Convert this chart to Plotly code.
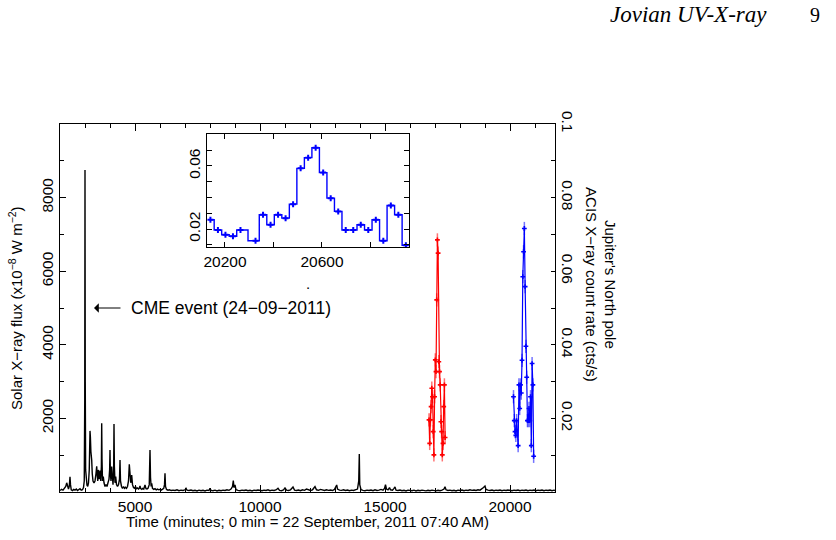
import plotly.graph_objects as go

# ---------------- data ----------------
# GOES solar X-ray flux (x1e-8 W m^-2) vs time (minutes)
goes_t = [2000, 2060, 2120, 2180, 2230, 2268, 2300, 2340, 2370, 2400, 2420, 2450, 2500, 2550, 2600, 2650, 2700, 2750, 2800, 2850,
          2900, 2940, 2970, 2990, 3000, 3010, 3025, 3050, 3080, 3110, 3140, 3170, 3190, 3200, 3215, 3235, 3268, 3290, 3320, 3360,
          3400, 3440, 3468, 3490, 3510, 3532, 3560, 3600, 3630, 3655, 3668, 3680, 3700, 3732, 3760, 3800, 3840, 3880, 3920, 3960,
          3985, 4000, 4015, 4040, 4068, 4090, 4120, 4145, 4160, 4175, 4200, 4228, 4260, 4300, 4340, 4380, 4400, 4420, 4460, 4500,
          4540, 4580, 4620, 4660, 4700, 4740, 4772, 4800, 4830, 4868, 4900, 4940, 4980, 5020, 5060, 5100, 5140, 5170, 5200, 5230,
          5270, 5310, 5350, 5400, 5440, 5480, 5520, 5570, 5600, 5620, 5645, 5668, 5700, 5750, 5800, 5850, 5900, 5950, 6000, 6050,
          6100, 6150, 6180, 6200, 6220, 6260, 6320, 6380, 6450, 6520, 6600, 6680, 6760, 6840, 6920, 7000, 7040, 7080, 7160, 7240,
          7320, 7400, 7480, 7560, 7640, 7720, 7800, 7880, 7960, 8000, 8040, 8120, 8200, 8280, 8360, 8440, 8520, 8600, 8680, 8760,
          8840, 8900, 8932, 8960, 9000, 9040, 9120, 9200, 9280, 9360, 9440, 9520, 9600, 9680, 9760, 9840, 9920, 10000, 10080, 10160,
          10240, 10320, 10400, 10480, 10560, 10640, 10720, 10780, 10860, 10940, 11000, 11060, 11140, 11220, 11320, 11380, 11460, 11540, 11620, 11700,
          11780, 11860, 11940, 12020, 12100, 12200, 12260, 12340, 12420, 12500, 12580, 12660, 12740, 12820, 12900, 12980, 13030, 13068, 13100, 13180,
          13260, 13340, 13420, 13500, 13580, 13660, 13740, 13820, 13900, 13950, 13972, 13990, 14040, 14120, 14200, 14280, 14360, 14440, 14520, 14600,
          14680, 14760, 14840, 14920, 14980, 15020, 15060, 15120, 15180, 15220, 15300, 15360, 15400, 15440, 15520, 15600, 15680, 15760, 15840, 15920,
          16000, 16080, 16160, 16240, 16320, 16400, 16480, 16560, 16640, 16720, 16800, 16880, 16960, 17040, 17120, 17200, 17280, 17360, 17400, 17440,
          17520, 17600, 17680, 17760, 17840, 17920, 18000, 18080, 18160, 18240, 18320, 18400, 18480, 18560, 18640, 18720, 18800, 18880, 18940, 19000,
          19040, 19120, 19200, 19280, 19360, 19440, 19520, 19600, 19680, 19760, 19840, 19920, 20000, 20080, 20160, 20240, 20320, 20400, 20480, 20560,
          20640, 20720, 20800, 20880, 20960, 21040, 21120, 21200, 21280, 21360, 21440, 21520, 21600, 21680, 21760, 21800]
goes_f = [40, 70, 50, 90, 150, 250, 120, 80, 150, 410, 200, 60, 40, 70, 50, 80, 40, 60, 90, 50,
          60, 120, 300, 2500, 8750, 3000, 600, 250, 180, 150, 250, 600, 1400, 1660, 1500, 1100, 870, 500, 300, 250,
          300, 500, 700, 450, 300, 600, 350, 580, 300, 700, 1870, 900, 300, 416, 250, 150, 200, 150, 250, 350,
          600, 1140, 500, 300, 690, 300, 200, 500, 1850, 700, 250, 416, 200, 150, 200, 350, 870, 300, 150, 100,
          150, 100, 130, 100, 150, 300, 750, 400, 250, 460, 200, 120, 100, 150, 90, 110, 80, 100, 163, 90,
          70, 100, 80, 190, 90, 80, 100, 200, 1140, 400, 150, 236, 100, 70, 90, 60, 80, 60, 70, 50,
          80, 100, 200, 507, 150, 70, 50, 60, 40, 50, 40, 60, 35, 50, 40, 60, 100, 50, 40, 55,
          35, 45, 30, 50, 35, 45, 30, 50, 40, 100, 45, 35, 50, 30, 45, 35, 50, 40, 60, 45,
          80, 150, 308, 120, 190, 60, 45, 35, 50, 40, 55, 35, 45, 30, 50, 40, 55, 45, 35, 50,
          40, 60, 35, 50, 40, 55, 100, 45, 35, 55, 110, 50, 40, 60, 136, 50, 40, 55, 35, 60,
          45, 80, 50, 40, 60, 145, 60, 45, 70, 50, 40, 60, 45, 55, 40, 70, 120, 190, 80, 50,
          45, 60, 40, 55, 35, 50, 40, 60, 80, 300, 1032, 200, 60, 45, 35, 50, 40, 55, 35, 60,
          40, 50, 70, 50, 100, 200, 80, 60, 120, 60, 50, 100, 140, 50, 40, 55, 35, 45, 30, 50,
          40, 35, 50, 30, 45, 35, 50, 40, 30, 45, 35, 50, 40, 30, 45, 35, 50, 80, 140, 60,
          40, 50, 35, 45, 30, 50, 40, 55, 35, 50, 40, 60, 45, 55, 40, 60, 50, 80, 120, 160,
          70, 50, 40, 55, 35, 50, 40, 55, 35, 50, 40, 55, 45, 35, 50, 40, 55, 35, 50, 40,
          55, 35, 50, 40, 55, 35, 50, 40, 55, 35, 50, 40, 55, 35, 50, 40]

# Jupiter north pole ACIS count rate (cts/s), first observation (red)
red_t = [16760, 16788, 16816, 16844, 16872, 16900, 16928, 16956, 16984, 17012, 17040, 17068,
         17096, 17124, 17152, 17180, 17208, 17236, 17264, 17292, 17320, 17348, 17376, 17404]
red_rate = [0.0196, 0.0132, 0.0196, 0.0232, 0.0282, 0.0259, 0.0164, 0.0101, 0.0259, 0.0359, 0.0327, 0.0522,
            0.0685, 0.0649, 0.0354, 0.0327, 0.0291, 0.0191, 0.0164, 0.0101, 0.0132, 0.0232, 0.0291, 0.0148]

# second observation (blue), also shown in the inset
blue_t = [20140, 20171, 20202, 20233, 20264, 20326, 20357, 20388, 20419, 20450, 20481, 20512, 20543,
          20574, 20605, 20636, 20667, 20698, 20729, 20760, 20791, 20822, 20853, 20884, 20915, 20946]
blue_rate = [0.0259, 0.0194, 0.0164, 0.0154, 0.0194, 0.0126, 0.0291, 0.0227, 0.0291, 0.0269, 0.0358, 0.0585, 0.0653,
             0.0716, 0.0558, 0.0396, 0.0312, 0.0194, 0.0194, 0.0227, 0.0194, 0.0259, 0.0126, 0.0349, 0.0291, 0.0097]
rate_err = 0.0018

x_ticks = [5000, 10000, 15000, 20000]
x_tick_text = ["5000", "10000", "15000", "20000"]
y_left_ticks = [2000, 4000, 6000, 8000]
y_left_text = ["2000", "4000", "6000", "8000"]
y_right_ticks = [0.02, 0.04, 0.06, 0.08, 0.1]
y_right_text = ["0.02", "0.04", "0.06", "0.08", "0.1"]
inset_x_ticks = [20200, 20600]
inset_x_text = ["20200", "20600"]
inset_y_ticks = [0.02, 0.06]
inset_y_text = ["0.02", "0.06"]

FONT = "Liberation Sans, Arial, sans-serif"
TICKSZ = 15.5
TITLESZ = 15

fig = go.Figure()

fig.add_trace(go.Scatter(x=goes_t, y=goes_f, mode="lines", line=dict(color="black", width=1.4),
                         xaxis="x", yaxis="y", hoverinfo="skip"))

fig.add_trace(go.Scatter(x=red_t, y=red_rate, mode="lines+markers",
                         line=dict(color="#ff0000", width=1.2),
                         marker=dict(symbol="cross", size=4, color="#ff0000"),
                         error_y=dict(type="constant", value=rate_err, color="rgba(255,0,0,0.55)", thickness=1.5, width=0),
                         xaxis="x", yaxis="y2"))

fig.add_trace(go.Scatter(x=blue_t, y=blue_rate, mode="lines+markers",
                         line=dict(color="#0000ff", width=1.2),
                         marker=dict(symbol="cross", size=4, color="#0000ff"),
                         error_y=dict(type="constant", value=rate_err, color="rgba(0,0,255,0.55)", thickness=1.5, width=0),
                         xaxis="x", yaxis="y2"))

# inset
fig.add_trace(go.Scatter(x=blue_t, y=blue_rate, mode="lines+markers",
                         line=dict(color="#0000ff", width=1.4, shape="hvh"),
                         marker=dict(symbol="cross", size=5, color="#0000ff"),
                         error_y=dict(type="constant", value=0.001, color="#0000ff", thickness=1, width=0),
                         xaxis="x3", yaxis="y3"))

axis_common = dict(showline=True, linecolor="black", linewidth=1, showgrid=False, zeroline=False,
                   tickfont=dict(family=FONT, size=TICKSZ, color="black"), tickcolor="black")

fig.update_layout(
    width=836, height=540,
    margin=dict(l=60, r=281, t=124, b=48),
    paper_bgcolor="white", plot_bgcolor="white",
    showlegend=False,
    font=dict(family=FONT, color="black"),
    xaxis=dict(range=[2000, 21800], tickvals=x_ticks, ticktext=x_tick_text, ticks="inside", ticklen=7,
               mirror="ticks",
               minor=dict(dtick=1000, tick0=0, ticks="inside", ticklen=4, tickcolor="black"),
               **axis_common),
    yaxis=dict(range=[0, 10000], tickvals=y_left_ticks, ticktext=y_left_text, ticks="inside", ticklen=6,
               tickangle=-90,
               minor=dict(dtick=1000, tick0=0, ticks="inside", ticklen=4, tickcolor="black"),
               **axis_common),
    yaxis2=dict(range=[0, 0.1], overlaying="y", side="right", anchor="x", tickvals=y_right_ticks,
                ticktext=y_right_text, ticks="inside", ticklen=4, tickangle=90,
                minor=dict(dtick=0.01, tick0=0, ticks="inside", ticklen=4, tickcolor="black"),
                **axis_common),
    xaxis3=dict(domain=[0.297, 0.7051], anchor="y3", range=[20126, 20959], tickvals=inset_x_ticks,
                ticktext=inset_x_text, ticks="inside", ticklen=5, mirror="ticks",
                minor=dict(dtick=200, tick0=0, ticks="inside", ticklen=5, tickcolor="black"),
                **axis_common),
    yaxis3=dict(domain=[0.6658, 0.9728], anchor="x3", range=[0.0086, 0.0803], tickvals=inset_y_ticks,
                ticktext=inset_y_text, ticks="inside", ticklen=5, mirror="ticks", tickangle=-90,
                minor=dict(dtick=0.01, tick0=0, ticks="inside", ticklen=5, tickcolor="black"),
                **axis_common),
)

ann_font = dict(family=FONT, size=TITLESZ, color="black")
fig.add_annotation(text="Time (minutes; 0 min = 22 September, 2011 07:40 AM)", xref="paper", yref="paper",
                   x=0.5, y=-0.0815, xanchor="center", yanchor="middle", showarrow=False, font=ann_font)
fig.add_annotation(text="Solar X\u2212ray flux (x10<sup>\u22128</sup> W m<sup>\u22122</sup>)", xref="paper", yref="paper",
                   x=-0.0909, y=0.5, xanchor="center", yanchor="middle", textangle=-90, showarrow=False, font=ann_font)
fig.add_annotation(text="Jupiter's North pole<br>ACIS X\u2212ray count rate (cts/s)", xref="paper", yref="paper",
                   x=1.093, y=0.565, xanchor="center", yanchor="middle", textangle=90, showarrow=False, font=ann_font)
# CME label with a left-pointing arrow
fig.add_annotation(text="CME event (24\u221209\u22122011)", xref="x", yref="y",
                   x=3360, y=5000, ax=137, ay=0, axref="pixel", ayref="pixel",
                   showarrow=True, arrowhead=1, arrowsize=1.6, arrowwidth=1, arrowcolor="black",
                   borderpad=10, font=dict(family=FONT, size=17.5, color="black"))
fig.add_annotation(text=".", xref="paper", yref="paper", x=0.500, y=(492 - 283) / 368,
                   xanchor="center", yanchor="middle", showarrow=False, font=ann_font)
fig.add_annotation(text="<i>Jovian UV-X-ray</i>", xref="paper", yref="paper", x=(608 - 60) / 495, y=(492 - 15) / 368,
                   xanchor="left", yanchor="middle", showarrow=False,
                   font=dict(family="Liberation Serif, serif", size=23, color="black"))
fig.add_annotation(text="9", xref="paper", yref="paper", x=(815 - 60) / 495, y=(492 - 15) / 368,
                   xanchor="center", yanchor="middle", showarrow=False,
                   font=dict(family="Liberation Serif, serif", size=20, color="black"))

fig.write_html("out.html")
